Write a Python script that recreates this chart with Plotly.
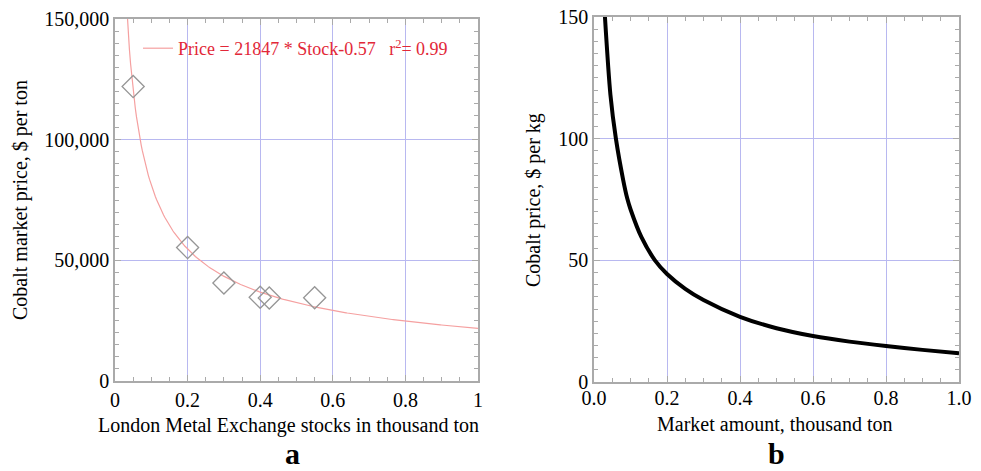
import numpy as np
import plotly.graph_objects as go

# Panel a: LME stocks (thousand ton) vs cobalt market price ($/ton)
stock_kt = [0.05, 0.2, 0.3, 0.4, 0.425, 0.55]
price_usd_t = [122000, 55300, 40600, 34700, 34400, 34500]
fit_coef = 21847
fit_exp = -0.57

# Panel b: market amount (thousand ton) vs cobalt price ($/kg)
amount_kt = [0.030, 0.045, 0.060, 0.080, 0.091, 0.1005, 0.13, 0.167, 0.2,
             0.25, 0.3, 0.4, 0.5, 0.6, 0.7, 0.8, 0.9, 1.0]
price_usd_kg = [150, 118, 100, 83, 75.5, 70.8, 59.5, 50, 44.4,
                38.3, 33.7, 26.8, 22.1, 18.9, 16.6, 14.8, 13.2, 11.8]

xa_ticks = [0, 0.2, 0.4, 0.6, 0.8, 1]
xa_labels = ["0", "0.2", "0.4", "0.6", "0.8", "1"]
ya_ticks = [0, 50000, 100000, 150000]
ya_labels = ["0", "50,000", "100,000", "150,000"]
xb_labels = ["0.0", "0.2", "0.4", "0.6", "0.8", "1.0"]
yb_ticks = [0, 50, 100, 150]
yb_labels = ["0", "50", "100", "150"]

W, H = 981, 471
FONT = "Liberation Serif, Times New Roman, serif"
GRID = "rgb(184,184,240)"
FRAME = "rgb(170,170,170)"

fit_x = np.linspace(0.03, 1.0, 300)
fit_y = fit_coef * fit_x ** fit_exp

fig = go.Figure()
fig.add_trace(go.Scatter(
    x=fit_x, y=fit_y, mode="lines", xaxis="x", yaxis="y",
    line=dict(color="rgb(245,160,160)", width=1.2),
    name="Price = 21847 * Stock-0.57   r<sup>2</sup>= 0.99", showlegend=True))
fig.add_trace(go.Scatter(
    x=stock_kt, y=price_usd_t, mode="markers", xaxis="x", yaxis="y",
    marker=dict(symbol="diamond-open", size=17, color="rgb(150,150,150)",
                line=dict(width=1.3, color="rgb(150,150,150)")),
    showlegend=False))
fig.add_trace(go.Scatter(
    x=amount_kt, y=price_usd_kg, mode="lines", xaxis="x2", yaxis="y2",
    line=dict(color="black", width=4, shape="spline", smoothing=0.8),
    showlegend=False))


def axis_common(domain, rng, tickvals, ticktext, dtick_minor, anchor):
    return dict(
        domain=domain, range=rng, tickmode="array", tickvals=tickvals,
        ticktext=ticktext, showgrid=True, gridcolor=GRID, gridwidth=1,
        zeroline=False, showline=True, linecolor=FRAME, linewidth=1.5,
        mirror="allticks", ticks="inside", ticklen=6, tickcolor=FRAME,
        tickfont=dict(family=FONT, size=20, color="black"),
        minor=dict(dtick=dtick_minor, ticks="inside", ticklen=4,
                   tickcolor=FRAME, showgrid=False),
        anchor=anchor, fixedrange=True, automargin=False)


xd_a = [115 / W, 478 / W]
yd_a = [1 - 381 / H, 1 - 19 / H]
xd_b = [594 / W, 959 / W]
yd_b = [1 - 382 / H, 1 - 17 / H]


def label(text, px, py, size=20, angle=0):
    return dict(text=text, x=px / W, y=1 - py / H, xref="paper", yref="paper",
                xanchor="center", yanchor="middle", textangle=angle,
                showarrow=False, font=dict(size=size, family=FONT))


xaxis2 = axis_common(xd_b, [0, 1], xa_ticks, xb_labels, 0.05, "y2")
xaxis2["ticklabelstandoff"] = -3

fig.update_layout(
    width=W, height=H, autosize=False,
    margin=dict(l=0, r=0, t=0, b=0, pad=0),
    paper_bgcolor="white", plot_bgcolor="white",
    font=dict(family=FONT, color="black"),
    xaxis=axis_common(xd_a, [0, 1], xa_ticks, xa_labels, 0.05, "y"),
    yaxis=axis_common(yd_a, [0, 150000], ya_ticks, ya_labels, 5000, "x"),
    xaxis2=xaxis2,
    yaxis2=axis_common(yd_b, [0, 150], yb_ticks, yb_labels, 5, "x2"),
    legend=dict(x=138 / W, y=1 - 30 / H, xanchor="left", yanchor="top",
                bgcolor="rgba(0,0,0,0)", borderwidth=0,
                font=dict(family=FONT, size=18, color="rgb(226,40,56)")),
    annotations=[
        label("Cobalt market price, $ per ton", 20, 200, angle=-90),
        label("London Metal Exchange stocks in thousand ton", 288, 425),
        label("Cobalt price, $ per kg", 533, 200, angle=-90),
        label("Market amount, thousand ton", 775, 424),
        label("<b>a</b>", 292, 453, size=30),
        label("<b>b</b>", 776, 453, size=30),
    ],
)

fig.write_html("out.html")
